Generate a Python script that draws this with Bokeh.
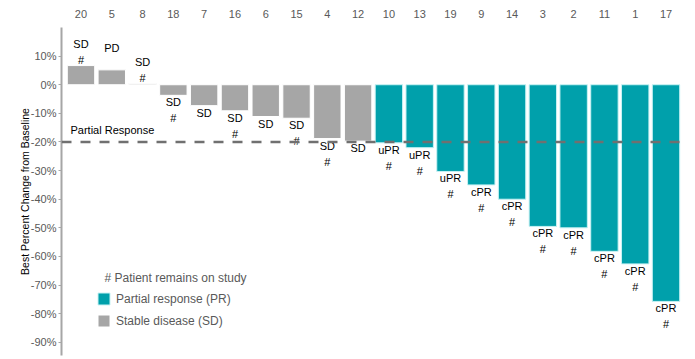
from bokeh.plotting import figure
from bokeh.models import (ColumnDataSource, FactorRange, Range1d, FixedTicker, Span,
                          Label, Legend, LegendItem)
from bokeh.core.properties import value
from bokeh.embed import file_html
from bokeh.resources import INLINE

patients = ["20", "5", "8", "18", "7", "16", "6", "15", "4", "12",
            "10", "13", "19", "9", "14", "3", "2", "11", "1", "17"]
change = [6.7, 5.2, 0.4, -3.7, -7.3, -9.1, -11.1, -11.7, -18.8, -19.7,
          -20.3, -22.0, -30.3, -35.0, -40.0, -49.5, -50.0, -58.2, -62.6, -75.7]
status = ["SD", "PD", "SD", "SD", "SD", "SD", "SD", "SD", "SD", "SD",
          "uPR", "uPR", "uPR", "cPR", "cPR", "cPR", "cPR", "cPR", "cPR", "cPR"]
on_study = [True, False, True, True, False, True, False, True, True, False,
            True, True, True, True, True, True, True, True, True, True]
y_ticks = [10, 0, -10, -20, -30, -40, -50, -60, -70, -80, -90]
threshold = -20

TEAL = "#00A0AB"
GREY = "#A6A6A6"
FONT = "Liberation Sans"

is_pr = [s.endswith("PR") for s in status]
pr = dict(x=[p for p, f in zip(patients, is_pr) if f],
          top=[c for c, f in zip(change, is_pr) if f])
sd = dict(x=[p for p, f in zip(patients, is_pr) if not f],
          top=[c for c, f in zip(change, is_pr) if not f])

p = figure(width=687, height=357, output_backend="svg", toolbar_location=None,
           x_range=FactorRange(factors=patients, range_padding=0.133,
                               range_padding_units="absolute"),
           y_range=Range1d(-94.6, 20), x_axis_location="above",
           min_border_left=61, min_border_right=2, min_border_top=27,
           min_border_bottom=2)
p.outline_line_color = None
p.xgrid.visible = False
p.ygrid.visible = False

r_pr = p.vbar(x="x", top="top", bottom=0, width=0.89, source=ColumnDataSource(pr),
              fill_color=TEAL, line_color="#C8F2F4", line_width=1)
r_sd = p.vbar(x="x", top="top", bottom=0, width=0.89, source=ColumnDataSource(sd),
              fill_color=GREY, line_color="#FFFFFF", line_width=1)

p.add_layout(Span(location=threshold, dimension="width", line_color="#707070",
                  line_width=2.5, line_dash="10 9"))

# bar labels
l1_off = [-22 if c > 0 else 7 for c in change]
l2_off = [-6 if c > 0 else 23 for c in change]
marks = ["#" if s else "" for s in on_study]
lab = ColumnDataSource(dict(x=patients, y=change, t1=status, t2=marks,
                            o1=l1_off, o2=l2_off))
p.text(x="x", y="y", text="t1", y_offset="o1", source=lab, text_align="center",
       text_baseline="middle", text_font=value(FONT), text_font_size="11px",
       text_color="#000000")
p.text(x="x", y="y", text="t2", y_offset="o2", source=lab, text_align="center",
       text_baseline="middle", text_font=value(FONT), text_font_size="11px",
       text_color="#000000")

p.add_layout(Label(x=9, x_units="screen", y=threshold, y_offset=6,
                   text="Partial Response", text_baseline="bottom",
                   text_font=FONT, text_font_size="11px", text_color="#000000"))

# axes
xa = p.xaxis[0]
xa.axis_line_color = None
xa.major_tick_line_color = None
xa.minor_tick_line_color = None
xa.major_label_text_font = FONT
xa.major_label_text_font_size = "11px"
xa.major_label_text_color = "#595959"
xa.major_label_standoff = 4

ya = p.yaxis[0]
ya.ticker = FixedTicker(ticks=y_ticks)
ya.major_label_overrides = {t: f"{t}%" for t in y_ticks}
ya.axis_line_color = "#A6A6A6"
ya.axis_line_width = 2
ya.major_tick_line_color = "#A6A6A6"
ya.major_tick_in = 0
ya.major_tick_out = 3
ya.minor_tick_line_color = None
ya.major_label_text_font = FONT
ya.major_label_text_font_size = "11px"
ya.major_label_text_color = "#595959"
ya.major_label_standoff = 2
ya.axis_label = "Best Percent Change from Baseline"
ya.axis_label_text_font = FONT
ya.axis_label_text_font_size = "10.5px"
ya.axis_label_text_font_style = "normal"
ya.axis_label_text_color = "#000000"
ya.axis_label_standoff = -3

# legend
p.add_layout(Label(x=43, y=78, x_units="screen", y_units="screen",
                   text="# Patient remains on study", text_baseline="middle",
                   text_font=FONT, text_font_size="12px", text_color="#595959"))
legend = Legend(items=[LegendItem(label="Partial response (PR)", renderers=[r_pr]),
                       LegendItem(label="Stable disease (SD)", renderers=[r_sd])],
                location=(35, 27), glyph_width=15, glyph_height=15, spacing=7,
                label_standoff=5, padding=0, margin=0, border_line_color=None,
                background_fill_alpha=0, label_text_font=FONT,
                label_text_font_size="12px", label_text_color="#595959",
                label_height=15)
p.add_layout(legend)

open("out.html", "w").write(file_html(p, INLINE))
